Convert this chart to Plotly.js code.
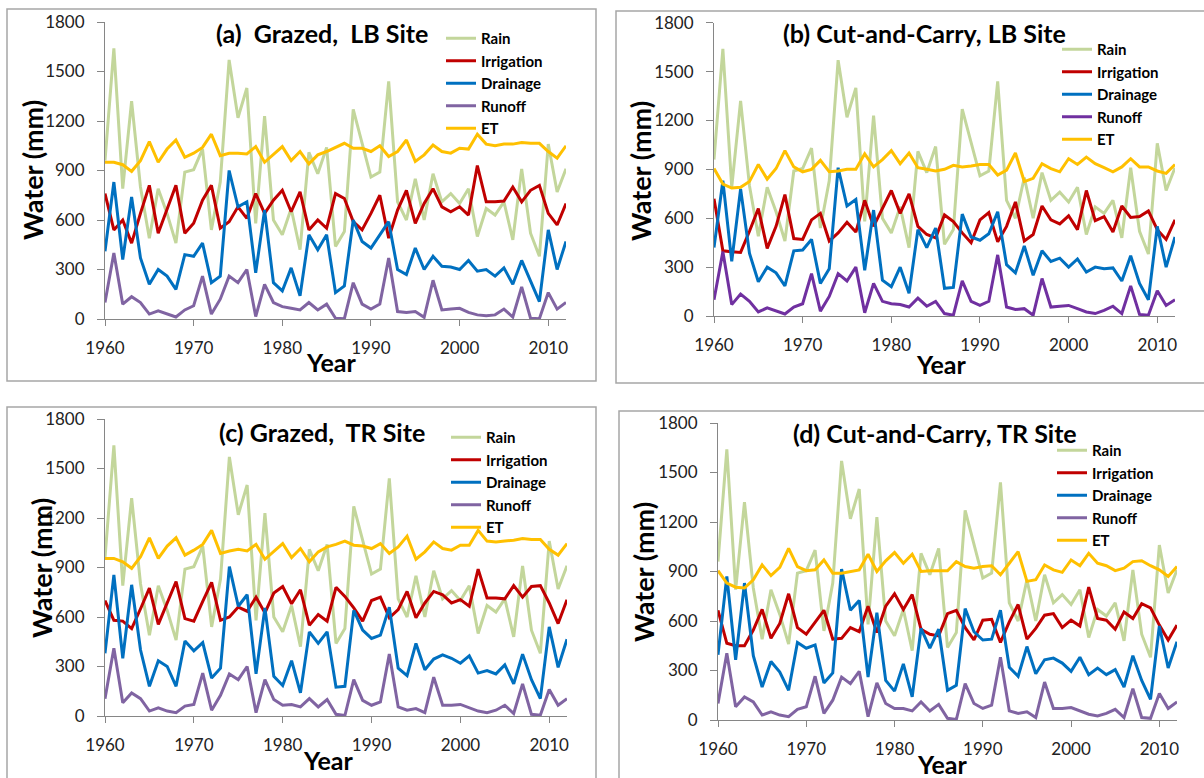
<!DOCTYPE html>
<html><head><meta charset="utf-8">
<script src="https://cdn.plot.ly/plotly-3.0.1.min.js"></script>
<style>html,body{margin:0;padding:0;background:#fff}#chart{width:1204px;height:778px}</style>
</head><body><div id="chart"></div>
<script>
const years = [1960,1961,1962,1963,1964,1965,1966,1967,1968,1969,
  1970,1971,1972,1973,1974,1975,1976,1977,1978,1979,
  1980,1981,1982,1983,1984,1985,1986,1987,1988,1989,
  1990,1991,1992,1993,1994,1995,1996,1997,1998,1999,
  2000,2001,2002,2003,2004,2005,2006,2007,2008,2009,
  2010,2011,2012];

const rain = [960,1640,790,1320,800,490,790,640,460,890,
  905,1030,540,830,1570,1220,1400,580,1230,600,
  510,670,420,1010,880,1040,440,530,1270,1060,
  860,890,1440,710,600,850,600,880,710,760,
  700,790,500,670,630,710,480,910,520,380,
  1060,770,910];

// (a) Grazed, LB Site
const irrA = [760,540,600,460,640,810,520,670,810,520,
  580,720,810,550,590,680,610,760,640,720,
  780,650,770,540,600,550,760,730,590,540,
  640,750,490,660,780,580,700,790,680,650,
  680,630,930,710,710,715,800,710,780,810,
  640,570,700];
const drainA = [410,830,360,740,370,210,300,260,180,390,
  380,460,220,260,900,680,710,280,660,220,
  170,310,140,510,420,510,160,200,600,470,
  430,510,590,300,270,430,300,380,320,315,
  300,355,290,300,260,310,210,355,230,105,
  540,300,470];
const runoffA = [100,400,90,135,100,30,50,30,12,55,
  80,260,30,120,260,220,300,15,210,100,
  75,65,55,100,55,90,5,2,220,90,
  60,90,370,45,40,45,10,235,55,60,
  65,40,25,20,25,60,12,195,5,2,
  160,60,100];
const etA = [950,950,935,895,960,1075,950,1030,1085,980,
  1005,1040,1120,990,1005,1005,1000,1045,950,1000,
  1045,960,1015,940,995,1015,1040,1065,1035,1035,
  1015,1050,985,1015,1085,955,995,1055,1015,1005,
  1035,1030,1120,1060,1050,1060,1060,1070,1065,1065,
  1015,975,1050];

// (b) Cut-and-Carry, LB Site
const irrB = [720,400,395,390,520,660,415,550,745,475,
  470,590,630,460,510,575,515,710,550,655,
  770,630,750,550,500,480,620,580,510,450,
  590,635,455,550,700,460,500,675,590,565,
  615,530,770,585,610,515,675,605,610,645,
  530,470,590];
const drainB = [420,830,335,780,385,210,300,265,185,400,
  405,470,200,290,910,675,715,280,650,220,
  180,300,140,530,420,540,170,175,625,485,
  465,505,640,315,265,430,250,400,335,355,
  300,350,270,300,290,295,215,370,200,100,
  550,300,485];
const runoffB = [100,395,70,135,90,25,50,30,12,55,
  75,260,30,120,260,215,300,20,200,90,
  75,70,55,110,60,90,15,5,215,90,
  65,90,375,55,40,45,5,230,55,60,
  65,45,25,15,35,60,15,185,10,5,
  155,65,100];
const etB = [905,810,785,790,825,930,840,905,1015,915,
  885,900,955,885,890,900,900,995,915,960,
  1015,935,1000,910,900,890,900,925,915,920,
  930,930,865,895,1000,825,845,935,905,885,
  965,930,975,935,910,885,915,965,915,915,
  890,875,930];

// (c) Grazed, TR Site
const irrC = [700,580,575,530,650,775,555,680,815,590,
  575,695,810,580,600,660,635,720,625,745,
  785,680,765,550,615,575,780,725,655,575,
  700,720,595,645,755,595,685,755,735,685,
  705,665,890,715,715,710,790,720,785,790,
  685,560,705];
const drainC = [380,855,350,795,400,180,335,300,180,455,
  395,445,230,290,905,665,735,255,655,240,
  185,335,140,510,440,510,175,180,640,520,
  470,490,660,290,245,440,280,345,370,350,
  320,365,260,275,255,310,195,375,220,105,
  540,295,465];
const runoffC = [105,410,80,140,105,30,50,30,20,60,
  70,260,35,125,255,220,300,20,220,100,
  65,70,55,105,55,100,10,3,220,95,
  65,85,375,55,35,45,20,235,65,65,
  70,50,30,20,35,65,15,195,10,5,
  160,65,105];
const etC = [955,955,935,895,965,1080,955,1030,1080,975,
  1005,1040,1125,985,1000,1010,1000,1040,950,995,
  1045,960,1015,935,995,1025,1040,1060,1035,1030,
  1015,1045,985,1025,1090,950,995,1055,1015,1005,
  1035,1035,1125,1060,1055,1060,1065,1075,1070,1070,
  1010,975,1045];

// (d) Cut-and-Carry, TR Site
const irrD = [665,465,450,450,545,670,495,585,765,560,
  520,595,665,490,495,560,535,690,530,690,
  765,670,760,550,520,510,645,665,560,485,
  605,610,470,595,700,490,555,635,645,560,
  605,570,805,615,605,550,655,615,705,680,
  575,485,575];
const drainD = [395,870,365,830,390,200,355,290,180,470,
  435,455,225,285,915,665,725,260,650,240,
  175,340,140,555,435,550,180,210,675,535,
  485,490,665,320,265,445,280,365,375,345,
  295,380,275,315,275,305,200,390,240,125,
  570,315,475];
const runoffD = [100,405,80,140,110,30,50,30,20,65,
  80,265,40,120,260,220,295,20,225,100,
  70,70,55,110,55,95,10,3,220,100,
  70,90,380,55,40,50,15,230,70,70,
  75,55,35,25,40,65,15,190,15,10,
  160,70,110];
const etD = [905,830,805,800,850,940,875,925,1040,930,
  905,910,970,890,890,900,910,1005,900,965,
  1015,950,1005,900,905,905,905,960,930,920,
  930,935,880,950,1020,840,850,940,910,895,
  970,935,1010,950,935,905,920,960,965,935,
  910,870,930];

const seriesNames = ['Rain','Irrigation','Drainage','Runoff','ET'];
const panelTitles = ['(a)\u00a0 Grazed,\u00a0 LB Site','(b) Cut-and-Carry, LB Site','(c) Grazed,\u00a0 TR Site','(d) Cut-and-Carry, TR Site'];
const panelData = [
  [rain, irrA, drainA, runoffA, etA],
  [rain, irrB, drainB, runoffB, etB],
  [rain, irrC, drainC, runoffC, etC],
  [rain, irrD, drainD, runoffD, etD]
];

const W = 1204, H = 778;
const fx = v => v / W, fy = v => 1 - v / H;
const FONT = 'Lato, "Open Sans", sans-serif';
const baseColors = ['#C3D69B','#C00000','#0070C0','#8064A2','#FFC000'];
const runoffColors = ['#8064A2','#7030A0','#8064A2','#8064A2'];

// layout geometry (pixels)
const geo = [
  {plot:[105,566,22,319], leg:[441,22], title:[322,33], year:[331,362], water:[32,170], frame:[7,596,9,381]},
  {plot:[714,1175,22.7,316], leg:[1057,33], title:[924,33], year:[941,364], water:[640,171], frame:[616,1210,11,383]},
  {plot:[105,567,419,716], leg:[446,421], title:[322,432], year:[328,760], water:[41,568], frame:[7,596,407,790]},
  {plot:[718,1177,423,720], leg:[1052,434], title:[935,433], year:[942,764], water:[643,572], frame:[619,1210,411,790]}
];

const traces = [];
const layout = {
  width: W, height: H,
  margin: {l:0, r:0, t:0, b:0},
  paper_bgcolor: '#ffffff', plot_bgcolor: 'rgba(0,0,0,0)',
  font: {family: FONT, color: '#222'},
  showlegend: true,
  annotations: [], shapes: []
};

geo.forEach((g, i) => {
  const n = i === 0 ? '' : String(i + 1);
  const legId = 'legend' + n;
  seriesNames.forEach((name, s) => {
    traces.push({
      type: 'scatter', mode: 'lines', name: '<b>' + name + '</b>',
      x: years, y: panelData[i][s],
      xaxis: 'x' + n, yaxis: 'y' + n, legend: legId,
      line: {color: s === 3 ? runoffColors[i] : baseColors[s], width: 3},
      hoverinfo: 'x+y+name'
    });
  });
  const [x0, x1, yTop, yBot] = g.plot;
  layout['xaxis' + n] = {
    domain: [fx(x0), fx(x1)], anchor: 'y' + n,
    range: [1960, 2012], tick0: 1960, dtick: 10,
    showline: true, linecolor: '#868686', linewidth: 1,
    ticks: 'outside', ticklen: 6, tickcolor: '#868686',
    showgrid: false, zeroline: false,
    tickfont: {family: FONT, size: 17, color: '#222'},
    ticklabelstandoff: 8, fixedrange: true
  };
  layout['yaxis' + n] = {
    domain: [fy(yBot), fy(yTop)], anchor: 'x' + n,
    range: [0, 1800], tick0: 0, dtick: 300,
    showline: true, linecolor: '#868686', linewidth: 1,
    ticks: 'outside', ticklen: 7, tickcolor: '#868686',
    showgrid: false, zeroline: false,
    tickfont: {family: FONT, size: 17, color: '#222'},
    ticklabelstandoff: 9, fixedrange: true
  };
  layout[legId] = {
    x: fx(g.leg[0]), y: fy(g.leg[1]), xanchor: 'left', yanchor: 'top',
    bgcolor: 'rgba(0,0,0,0)', borderwidth: 0,
    font: {family: FONT, size: 15, color: '#000'},
    itemclick: false, itemdoubleclick: false
  };
  layout.annotations.push({
    text: '<b>' + panelTitles[i] + '</b>', xref: 'paper', yref: 'paper',
    x: fx(g.title[0]), y: fy(g.title[1]), xanchor: 'center', yanchor: 'middle',
    showarrow: false, font: {family: FONT, size: 25, color: '#000'}
  });
  layout.annotations.push({
    text: '<b>Year</b>', xref: 'paper', yref: 'paper',
    x: fx(g.year[0]), y: fy(g.year[1]), xanchor: 'center', yanchor: 'middle',
    showarrow: false, font: {family: FONT, size: 25, color: '#000'}
  });
  layout.annotations.push({
    text: '<b>Water (mm)</b>', xref: 'paper', yref: 'paper', textangle: -90,
    x: fx(g.water[0]), y: fy(g.water[1]), xanchor: 'center', yanchor: 'middle',
    showarrow: false, font: {family: FONT, size: 27, color: '#000'}
  });
  const [fx0, fx1, fy0, fy1] = g.frame;
  layout.shapes.push({
    type: 'rect', xref: 'paper', yref: 'paper', layer: 'below',
    x0: fx(fx0), x1: fx(fx1), y0: fy(fy1), y1: fy(fy0),
    line: {color: '#A6A6A6', width: 1.5}, fillcolor: 'rgba(0,0,0,0)'
  });
});

Plotly.newPlot('chart', traces, layout, {displayModeBar: false, staticPlot: true});
</script>
</body></html>
